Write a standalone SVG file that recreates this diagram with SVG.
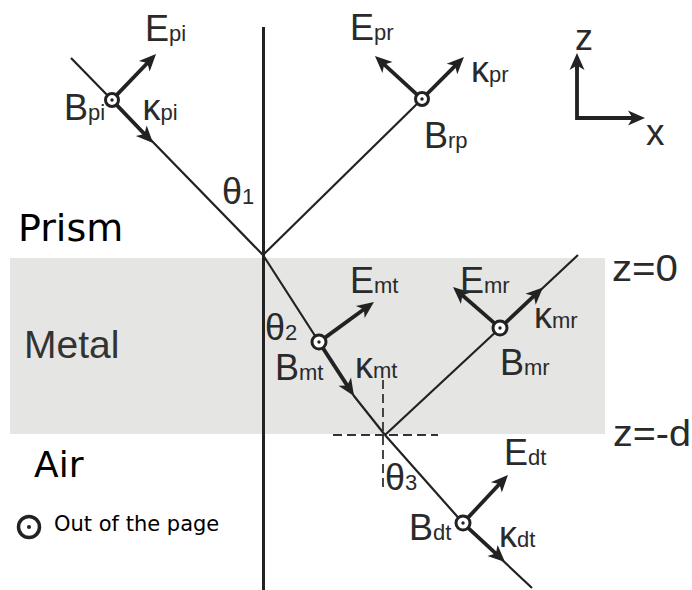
<svg xmlns="http://www.w3.org/2000/svg" width="692" height="590" viewBox="0 0 692 590">
<style>
.ln{stroke:#222;stroke-width:2.2;fill:none;stroke-linejoin:round}
.ar{stroke:#222;stroke-width:3.8;fill:none;marker-end:url(#ah)}
.dash{stroke:#333;stroke-width:1.8;fill:none;stroke-dasharray:9 5}
.lb{font-family:"Liberation Sans",Arial,sans-serif;font-size:36px;fill:#2a2a2a}
.sb{font-size:22px}
.dv{font-family:"DejaVu Sans",sans-serif;fill:#000}
.cir{fill:#fff;stroke:#222;stroke-width:3}
.dot{fill:#222}
</style>
<defs>
<marker id="ah" markerUnits="userSpaceOnUse" markerWidth="22" markerHeight="18" refX="9" refY="9" orient="auto">
<path d="M1,1.5 L18,9 L1,16.5 L5.5,9 Z" fill="#222"/>
</marker>
</defs>
<rect id="metal-band" x="10" y="258" width="595" height="176" fill="#e5e5e3"/>
<g id="labels-regions">
<text class="dv" x="18" y="241" font-size="38">Prism</text>
<text class="lb" x="24" y="358" style="font-size:39px;fill:#333">Metal</text>
<text class="dv" x="34" y="477" font-size="36">Air</text>
<text class="dv" x="54" y="531" font-size="21">Out of the page</text>
<text class="lb" x="612" y="281" textLength="66" lengthAdjust="spacingAndGlyphs">z=0</text>
<text class="lb" x="613" y="446" textLength="78" lengthAdjust="spacingAndGlyphs">z=-d</text>
</g>
<g id="connectors">
<line class="ln" x1="263.5" y1="27" x2="263.5" y2="590" style="stroke-width:3"/>
<polyline class="ln" points="71,58 112,100 263,255"/>
<polyline class="ln" points="263,255 422,99"/>
<polyline class="ln" points="263,255 319,342 354,396 385,435"/>
<polyline class="ln" points="385,435 500,328 578,255"/>
<polyline class="ln" points="385,435 463,523 532,588"/>
<line class="dash" x1="333" y1="435" x2="438" y2="435"/>
<line class="dash" x1="383" y1="380" x2="383" y2="490"/>
<line class="ar" x1="116.8" y1="94.9" x2="149.8" y2="60.5"/>
<line class="ar" x1="116.8" y1="105.1" x2="146.8" y2="136.5"/>
<line class="ar" x1="416.8" y1="94.3" x2="381.6" y2="62.1"/>
<line class="ar" x1="427" y1="94" x2="457.6" y2="63.4"/>
<line class="ar" x1="324.7" y1="337.9" x2="366.7" y2="307.3"/>
<line class="ar" x1="322.8" y1="347.9" x2="349.1" y2="388.4"/>
<line class="ar" x1="505.1" y1="323.2" x2="536.4" y2="293.7"/>
<line class="ar" x1="494.7" y1="323.4" x2="459.8" y2="293"/>
<line class="ar" x1="468.1" y1="527.8" x2="498.4" y2="555.9"/>
<line class="ar" x1="467.8" y1="517.9" x2="501.8" y2="481.5"/>
<polyline class="ln" points="577,62 577,118 636,118" style="stroke-width:3.8;stroke-linejoin:miter"/>
<line class="ar" x1="577" y1="70" x2="577" y2="62"/>
<line class="ar" x1="628" y1="118" x2="636" y2="118"/>
</g>
<g id="node-incident">
<circle class="cir" cx="112" cy="100" r="6.5"/><circle class="dot" cx="112" cy="100" r="1.7"/>
<text class="lb" x="145" y="41">E<tspan class="sb">pi</tspan></text>
<text class="lb" x="64" y="120">B<tspan class="sb">pi</tspan></text>
<text class="lb" x="142.5" y="120">κ<tspan class="sb">pi</tspan></text>
<text class="lb" x="222" y="204">θ<tspan class="sb">1</tspan></text>
</g>
<g id="node-reflected">
<circle class="cir" cx="422" cy="99" r="6.5"/><circle class="dot" cx="422" cy="99" r="1.7"/>
<text class="lb" x="350" y="40">E<tspan class="sb">pr</tspan></text>
<text class="lb" x="471" y="82">κ<tspan class="sb">pr</tspan></text>
<text class="lb" x="424" y="148">B<tspan class="sb">rp</tspan></text>
</g>
<g id="node-metal-transmitted">
<circle class="cir" cx="319" cy="342" r="7"/><circle class="dot" cx="319" cy="342" r="1.7"/>
<text class="lb" x="350" y="293">E<tspan class="sb">mt</tspan></text>
<text class="lb" x="355" y="378">κ<tspan class="sb">mt</tspan></text>
<text class="lb" x="275" y="380">B<tspan class="sb">mt</tspan></text>
<text class="lb" x="265" y="340">θ<tspan class="sb">2</tspan></text>
</g>
<g id="node-metal-reflected">
<circle class="cir" cx="500" cy="328" r="7"/><circle class="dot" cx="500" cy="328" r="1.7"/>
<text class="lb" x="460" y="293">E<tspan class="sb">mr</tspan></text>
<text class="lb" x="534" y="328">κ<tspan class="sb">mr</tspan></text>
<text class="lb" x="500" y="375">B<tspan class="sb">mr</tspan></text>
</g>
<g id="node-air-transmitted">
<circle class="cir" cx="463" cy="523" r="7"/><circle class="dot" cx="463" cy="523" r="1.7"/>
<text class="lb" x="504" y="465">E<tspan class="sb">dt</tspan></text>
<text class="lb" x="385" y="490">θ<tspan class="sb">3</tspan></text>
<text class="lb" x="409" y="540">B<tspan class="sb">dt</tspan></text>
<text class="lb" x="499" y="547">κ<tspan class="sb">dt</tspan></text>
</g>
<g id="node-axes">
<text class="lb" x="575" y="50">z</text>
<text class="lb" x="646" y="145" style="font-size:37px">x</text>
</g>
<g id="node-legend">
<circle cx="29" cy="527" r="10.5" fill="#fff" stroke="#222" stroke-width="3.5"/>
<circle class="dot" cx="29" cy="527" r="2"/>
</g>
</svg>
